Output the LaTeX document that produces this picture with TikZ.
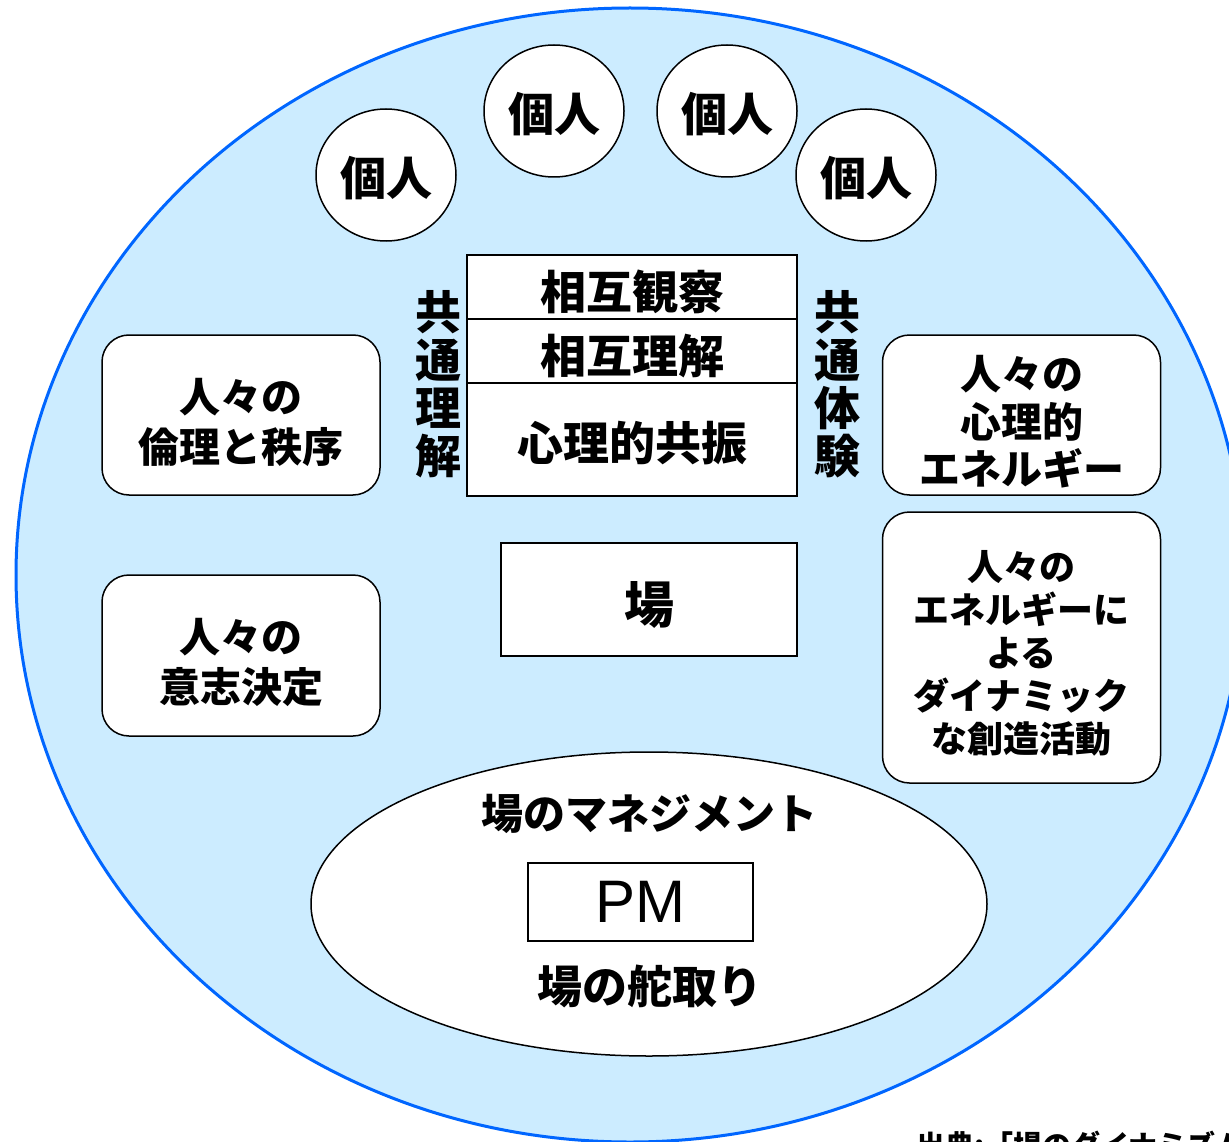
\documentclass[tikz,border=0pt]{standalone}
\usepackage{fontspec}
\setmainfont{Noto Sans CJK JP}
\newfontfamily\arialfont{Liberation Sans}
\usetikzlibrary{shapes.geometric}
\definecolor{bgblue}{RGB}{204,236,255}
\definecolor{edgeblue}{RGB}{0,102,255}
\newcommand{\fs}[2]{\fontsize{#1}{#2}\selectfont\bfseries}
\begin{document}
\begin{tikzpicture}[x=1pt,y=-1pt,
  person/.style={ellipse,draw=black,line width=1.5pt,fill=white,minimum width=140pt,minimum height=132pt,inner sep=0pt},
  rowbox/.style={rectangle,draw=black,line width=1.5pt,fill=white,minimum width=330pt,inner sep=0pt},
  vtext/.style={align=center,inner sep=0pt,font=\fs{46}{48}},
  roundbox/.style={rectangle,rounded corners=27pt,draw=black,line width=1.5pt,fill=white,minimum width=278pt,inner sep=0pt},
  plainbox/.style={rectangle,draw=black,line width=1.5pt,fill=white,inner sep=0pt},
  label/.style={inner sep=0pt,align=center}]
\useasboundingbox (0,0) rectangle (1229,1142);
% outer field
\node[ellipse,draw=edgeblue,line width=3pt,fill=bgblue,minimum width=1228pt,minimum height=1134pt,inner sep=0pt] (field) at (630,575) {};
% individuals
\node[person] (p1) at (386,175) {};
\node[person] (p2) at (554,111) {};
\node[person] (p3) at (727,111) {};
\node[person] (p4) at (866,175) {};
\foreach \p in {p1,p2,p3,p4}
  \node[label,font=\fs{46}{50}] (\p-t) at ([yshift=-3pt]\p.center) {個人};
% stacked centre box
\node[rowbox,minimum height=64pt] (r1) at (632,287) {};
\node[rowbox,minimum height=64pt] (r2) at (632,351) {};
\node[rowbox,minimum height=113pt] (r3) at (632,439.5) {};
\node[label,font=\fs{46}{50}] (r1-t) at ([yshift=-5pt]r1.center) {相互観察};
\node[label,font=\fs{46}{50}] (r2-t) at ([yshift=-5pt]r2.center) {相互理解};
\node[label,font=\fs{46}{50}] (r3-t) at ([yshift=-4pt]r3.center) {心理的共振};
\node[vtext] (vl) at (438,384) {共\\通\\理\\解};
\node[vtext] (vr) at (837,384) {共\\通\\体\\験};
% side boxes
\node[roundbox,minimum height=160pt] (b1) at (241,415) {};
\node[roundbox,minimum height=161pt] (b2) at (241,655.5) {};
\node[roundbox,minimum height=160pt] (b3) at (1021.5,415) {};
\node[roundbox,minimum height=271pt] (b4) at (1021.5,647.5) {};
\node[label,font=\fs{41}{50}] (b1-t) at ([yshift=-7pt]b1.center) {人々の\\倫理と秩序};
\node[label,font=\fs{41}{50}] (b2-t) at ([yshift=-7pt]b2.center) {人々の\\意志決定};
\node[label,font=\fs{41}{47.5}] (b3-t) at ([yshift=-7pt]b3.center) {人々の\\心理的\\エネルギー};
\node[label,font=\fs{36}{43}] (b4-t) at ([yshift=-6pt]b4.center) {人々の\\エネルギーに\\よる\\ダイナミック\\な創造活動};
% ba
\node[plainbox,minimum width=296pt,minimum height=113pt] (ba) at (649,599.5) {};
\node[label,font=\fs{50}{54}] (ba-t) at ([yshift=-5pt]ba.center) {場};
% management ellipse
\node[ellipse,draw=black,line width=1.5pt,fill=white,minimum width=676pt,minimum height=304pt,inner sep=0pt] (mgmt) at (649,904) {};
\node[label,font=\fs{42}{46}] (mt) at (649,814) {場のマネジメント};
\node[plainbox,minimum width=225pt,minimum height=78pt,font=\arialfont\fontsize{60}{64}\selectfont] (pm) at (640.5,902) {PM};
\node[label,font=\fs{45}{48}] (steer) at (650,986) {場の舵取り};
% source
\node[anchor=west,inner sep=0pt,font=\fs{29}{32}] (src) at (916,1145) {出典:「場のダイナミズム」};
\end{tikzpicture}
\end{document}
